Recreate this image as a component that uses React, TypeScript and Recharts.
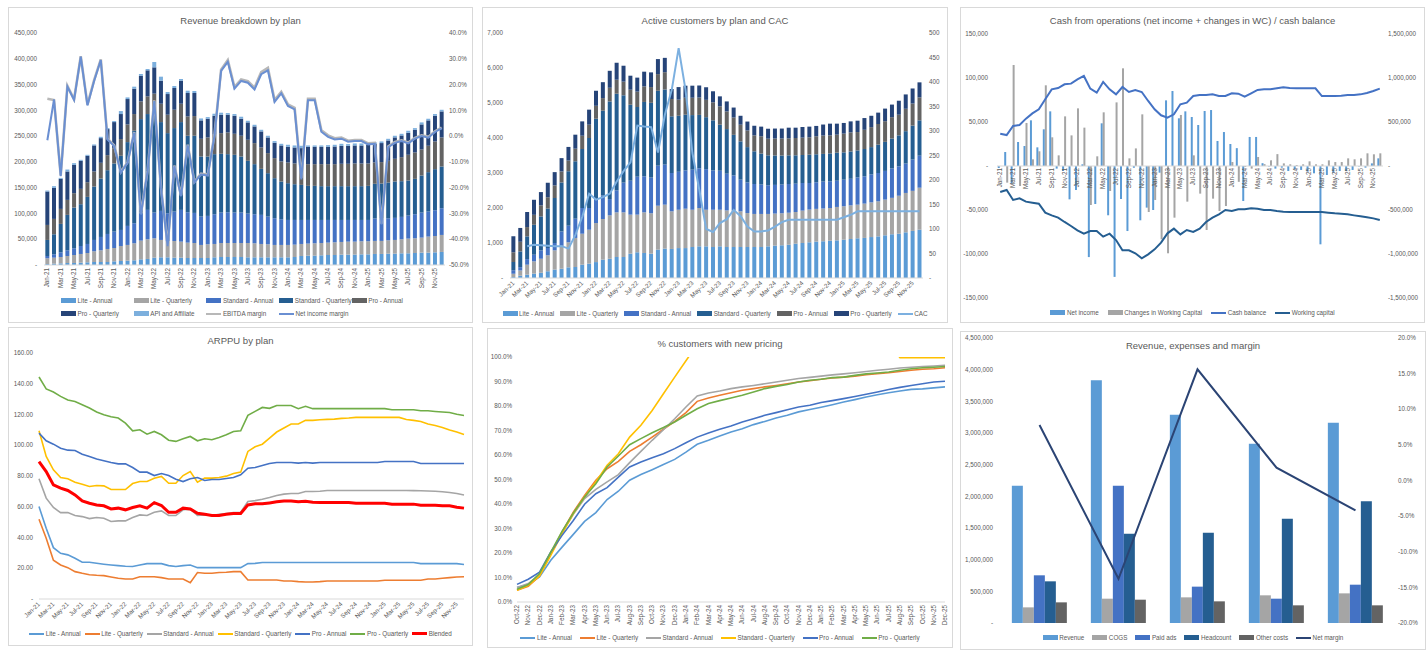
import React from 'react';
import { ComposedChart, Bar, Line, XAxis, YAxis, ReferenceLine } from 'recharts';

const FONT = '"Liberation Sans", Arial, sans-serif';
const TXT = '#595959';
const AXIS = '#d9d9d9';
const FS = 6.3;

const C_LITE_A = '#5b9bd5';
const C_LITE_Q = '#a5a5a5';
const C_STD_A = '#4472c4';
const C_STD_Q = '#255e91';
const C_PRO_A = '#636363';
const C_PRO_Q = '#264478';
const C_API = '#7cafdd';

// ---------- categories ----------
const MONTHS = [
  'Jan-21', 'Feb-21', 'Mar-21', 'Apr-21', 'May-21', 'Jun-21', 'Jul-21', 'Aug-21', 'Sep-21', 'Oct-21', 'Nov-21', 'Dec-21',
  'Jan-22', 'Feb-22', 'Mar-22', 'Apr-22', 'May-22', 'Jun-22', 'Jul-22', 'Aug-22', 'Sep-22', 'Oct-22', 'Nov-22', 'Dec-22',
  'Jan-23', 'Feb-23', 'Mar-23', 'Apr-23', 'May-23', 'Jun-23', 'Jul-23', 'Aug-23', 'Sep-23', 'Oct-23', 'Nov-23', 'Dec-23',
  'Jan-24', 'Feb-24', 'Mar-24', 'Apr-24', 'May-24', 'Jun-24', 'Jul-24', 'Aug-24', 'Sep-24', 'Oct-24', 'Nov-24', 'Dec-24',
  'Jan-25', 'Feb-25', 'Mar-25', 'Apr-25', 'May-25', 'Jun-25', 'Jul-25', 'Aug-25', 'Sep-25', 'Oct-25', 'Nov-25', 'Dec-25',
];
const PRICING_MONTHS = [
  'Oct-22', 'Nov-22', 'Dec-22',
  'Jan-23', 'Feb-23', 'Mar-23', 'Apr-23', 'May-23', 'Jun-23', 'Jul-23', 'Aug-23', 'Sep-23', 'Oct-23', 'Nov-23', 'Dec-23',
  'Jan-24', 'Feb-24', 'Mar-24', 'Apr-24', 'May-24', 'Jun-24', 'Jul-24', 'Aug-24', 'Sep-24', 'Oct-24', 'Nov-24', 'Dec-24',
  'Jan-25', 'Feb-25', 'Mar-25', 'Apr-25', 'May-25', 'Jun-25', 'Jul-25', 'Aug-25', 'Sep-25', 'Oct-25', 'Nov-25', 'Dec-25',
];
const YEARS = ['2021', '2022', '2023', '2024', '2025'];

// ---------- revenue breakdown (thousands) ----------
const REV_LITE_A = [1.9, 2.6, 3.2, 3.9, 3.9, 4.5, 5.2, 5.8, 5.8, 5.8, 7.1, 7.8, 8.4, 9.1, 11.0, 11.7, 14.2, 14.9, 14.9, 14.2, 14.2, 13.6, 13.6, 13.6, 13.6, 14.9, 15.5, 15.5, 15.5, 15.5, 14.9, 14.9, 14.9, 14.9, 14.9, 14.9, 14.9, 15.5, 17.5, 18.1, 18.1, 18.8, 19.4, 19.4, 20.1, 20.1, 20.1, 20.7, 20.7, 21.4, 21.4, 22.0, 22.0, 22.7, 22.7, 23.3, 24.0, 24.0, 24.6, 25.3];
const REV_LITE_Q = [11.1, 11.6, 12.3, 13.6, 15.5, 16.9, 18.1, 20.8, 22.7, 25.3, 25.9, 29.1, 30.5, 33.0, 36.3, 38.2, 37.6, 33.7, 31.7, 32.4, 31.1, 29.8, 29.1, 25.3, 26.6, 25.9, 27.2, 27.2, 27.2, 27.2, 27.8, 27.2, 25.9, 25.3, 24.0, 24.0, 24.0, 24.0, 23.3, 23.4, 24.0, 23.9, 24.0, 24.6, 24.6, 25.2, 25.2, 25.3, 25.3, 25.3, 25.3, 25.9, 26.6, 27.2, 28.5, 28.5, 29.1, 31.1, 31.7, 33.0];
const REV_STD_A = [4.5, 6.5, 9.1, 11.0, 13.0, 15.5, 17.5, 22.0, 25.9, 29.1, 31.8, 31.1, 36.9, 38.9, 54.4, 57.0, 49.9, 56.3, 53.8, 57.0, 61.6, 58.9, 58.3, 55.0, 55.0, 57.6, 59.0, 59.6, 59.0, 59.0, 57.0, 56.3, 56.4, 53.7, 51.8, 49.8, 48.5, 47.9, 46.6, 45.9, 45.3, 44.7, 44.0, 43.4, 42.7, 42.1, 42.1, 41.4, 41.4, 43.4, 43.4, 42.8, 42.8, 43.4, 44.7, 46.6, 48.6, 48.6, 49.9, 51.8];
const REV_STD_Q = [31.1, 38.9, 55.1, 68.7, 79.0, 81.0, 91.3, 103.6, 113.4, 123.7, 132.1, 143.8, 162.6, 179.4, 181.3, 185.9, 192.4, 172.3, 155.4, 162.0, 170.3, 148.4, 149.7, 116.6, 115.3, 116.6, 114.0, 112.7, 112.0, 108.8, 102.4, 97.2, 89.3, 84.2, 77.7, 73.2, 71.3, 69.3, 68.0, 66.1, 66.1, 65.5, 65.5, 65.5, 65.5, 65.5, 65.5, 65.5, 66.1, 67.4, 68.0, 69.3, 70.6, 69.3, 68.0, 68.7, 71.9, 76.4, 79.7, 81.0];
const REV_PRO_A = [29.1, 29.8, 29.1, 29.1, 27.9, 29.8, 28.5, 29.2, 30.4, 29.2, 29.8, 32.4, 34.3, 32.4, 34.4, 34.3, 38.2, 35.6, 35.7, 35.6, 35.6, 37.5, 38.2, 34.3, 36.9, 37.6, 40.1, 42.1, 40.8, 40.2, 40.8, 40.8, 41.5, 38.9, 38.9, 38.9, 40.1, 40.2, 40.2, 42.1, 42.1, 42.7, 42.7, 42.7, 43.4, 43.4, 44.0, 44.0, 43.4, 41.5, 41.5, 42.1, 44.0, 46.6, 49.9, 51.2, 50.5, 51.2, 53.8, 56.3];
const REV_PRO_Q = [64.8, 60.2, 58.3, 55.1, 55.0, 54.4, 51.2, 50.5, 47.9, 50.5, 50.5, 48.6, 49.2, 49.2, 49.8, 50.5, 51.1, 44.7, 40.1, 42.1, 44.7, 45.4, 44.7, 35.7, 36.3, 36.9, 35.7, 34.4, 35.0, 33.0, 33.7, 32.4, 31.1, 30.4, 29.8, 31.1, 30.5, 31.1, 31.1, 33.7, 33.7, 33.7, 33.7, 34.3, 34.9, 34.9, 35.0, 35.0, 36.3, 35.6, 36.9, 39.5, 41.5, 42.1, 42.7, 44.0, 48.6, 49.2, 49.9, 50.5];
const REV_API = [1.9, 3.3, 1.9, 3.8, 3.2, 1.9, 1.9, 1.9, 2.6, 2.0, 2.0, 5.8, 3.2, 3.9, 3.3, 2.6, 10.4, 7.8, 3.9, 3.9, 3.3, 4.5, 3.9, 3.8, 3.2, 3.9, 3.9, 3.2, 3.3, 3.9, 3.2, 3.2, 3.2, 3.3, 3.2, 3.2, 3.9, 3.9, 4.5, 2.6, 2.6, 2.6, 3.2, 3.3, 3.9, 3.3, 3.9, 3.9, 3.2, 3.2, 3.2, 3.2, 3.2, 3.2, 3.9, 3.2, 3.9, 3.2, 3.2, 3.2];
const EBITDA_MARGIN = [14.5, 14.0, -15.2, 19.5, 14.3, 31.0, 12.2, 21.7, 29.8, -1.0, -3.6, -13.9, -10.1, 1.6, -30.1, -13.3, 13.9, -19.8, -42.4, -11.4, -23.0, -3.3, -17.7, -14.6, -15.0, 0.4, 25.8, 29.5, 19.0, 22.0, 21.3, 18.8, 24.8, 26.5, 14.0, 17.2, 12.3, 11.0, -16.2, 14.5, 14.5, 2.3, 0.3, -0.8, -0.6, -1.8, -1.5, -1.5, -2.8, -2.6, -34.0, -4.0, -2.3, -1.6, -2.5, -0.7, 0.3, -0.3, 1.9, 3.3];
const NET_MARGIN = [-1.6, 14.2, -15.5, 19.2, 14.0, 30.8, 11.9, 21.4, 29.5, -1.3, -3.9, -14.2, -10.4, 1.3, -30.4, -13.6, 13.6, -20.1, -42.7, -11.7, -23.3, -3.6, -18.0, -14.9, -15.3, 0.0, 25.3, 28.8, 18.4, 21.4, 20.7, 18.1, 24.0, 25.5, 13.3, 16.6, 11.7, 10.4, -16.8, 13.9, 13.9, 1.7, -0.3, -1.3, -1.0, -2.2, -1.9, -1.9, -3.2, -3.0, -34.3, -4.3, -2.6, -1.9, -2.8, -1.0, 0.0, -0.6, 1.6, 3.0];

// ---------- active customers ----------
const CUST_LITE_A = [30, 65, 95, 125, 150, 190, 240, 265, 305, 315, 380, 410, 455, 525, 550, 600, 600, 695, 735, 715, 695, 810, 840, 830, 855, 855, 885, 905, 905, 885, 905, 885, 885, 885, 885, 885, 885, 905, 925, 935, 950, 980, 1000, 1020, 1040, 1050, 1065, 1075, 1095, 1115, 1135, 1145, 1170, 1190, 1220, 1250, 1265, 1305, 1345, 1380];
const CUST_LITE_Q = [95, 150, 285, 350, 400, 460, 550, 655, 715, 830, 885, 970, 1115, 1160, 1240, 1275, 1275, 1115, 1075, 1160, 1155, 1255, 1255, 1075, 1095, 1125, 1065, 1095, 1045, 1065, 1045, 1045, 1045, 1020, 970, 945, 945, 925, 915, 915, 915, 905, 925, 935, 935, 935, 935, 955, 955, 960, 960, 980, 990, 1000, 1020, 1040, 1085, 1125, 1145, 1200];
const CUST_STD_A = [95, 95, 160, 190, 240, 210, 210, 410, 475, 550, 735, 620, 685, 675, 465, 630, 850, 970, 1085, 1030, 1020, 1145, 1145, 1095, 1085, 1095, 1145, 1135, 1160, 1125, 1115, 1050, 1000, 905, 875, 855, 840, 820, 820, 820, 820, 810, 790, 760, 760, 770, 760, 750, 760, 760, 780, 780, 800, 810, 820, 840, 840, 840, 895, 915];
const CUST_STD_Q = [240, 450, 650, 855, 970, 1125, 1285, 1400, 1555, 1640, 1685, 2000, 2295, 2420, 2790, 2760, 2495, 2170, 1990, 2125, 2135, 2140, 2145, 1620, 1600, 1590, 1560, 1525, 1485, 1430, 1315, 1275, 1160, 1095, 1010, 935, 885, 855, 840, 830, 820, 810, 800, 810, 800, 790, 800, 800, 780, 780, 770, 780, 780, 810, 830, 855, 885, 925, 970, 1010];
const CUST_PRO_A = [275, 275, 265, 285, 315, 325, 360, 315, 305, 360, 380, 380, 370, 360, 390, 400, 390, 430, 440, 445, 450, 475, 495, 495, 460, 485, 495, 495, 495, 515, 525, 505, 495, 475, 475, 455, 495, 475, 485, 485, 485, 495, 495, 495, 515, 525, 515, 515, 535, 545, 525, 550, 570, 590, 590, 610, 590, 640, 630, 655];
const CUST_PRO_Q = [455, 395, 430, 430, 380, 410, 380, 380, 390, 400, 410, 430, 430, 455, 485, 485, 455, 400, 400, 420, 420, 430, 410, 285, 360, 345, 345, 345, 360, 315, 285, 285, 285, 255, 255, 275, 275, 285, 285, 285, 305, 295, 305, 305, 295, 315, 335, 315, 305, 315, 325, 335, 325, 325, 360, 360, 400, 410, 430, 430];
const CAC = [null, null, 65, 68, 67, 66, 65, 65, 60, 88, 125, 172, 160, 165, 172, 197, 218, 236, 311, 309, 308, 256, 333, 384, 469, 384, 255, 180, 100, 94, 112, 120, 139, 126, 105, 95, 95, 97, 105, 114, 119, 119, 119, 119, 119, 119, 119, 119, 124, 129, 136, 136, 136, 136, 136, 136, 136, 136, 136, 136];

// ---------- cash from operations (thousands) ----------
const NET_INCOME_K = [-2.3, 15.9, -20.0, 27.3, 22.7, 51.9, 21.2, 41.7, 62.1, -3.0, -5.7, -37.9, -27.3, 1.9, -103.5, -43.2, 48.5, -56.0, -126.0, -37.5, -73.9, -2.0, -61.7, -47.3, -50.0, -7.6, 74.6, 85.2, 54.2, 62.1, 55.7, 46.6, 62.5, 63.6, 28.4, 38.6, 25.0, 20.3, -39.8, 33.0, 33.0, 3.2, -0.5, -3.0, -1.9, -5.7, -3.8, -4.5, -6.4, -8.3, -89.0, -10.2, -7.6, -5.7, -5.7, -4.5, -0.5, -1.9, 3.0, 8.7];
const WC_CHANGE_K = [0, -18.9, 114.8, -22.7, 48.9, 7.6, 16.7, 91.7, 32.6, 12.1, 56.4, 34.8, 65.5, 43.6, -44.3, 11.0, 61.0, -28.4, 72.3, 111.0, 8.7, 20.0, 58.7, -52.3, -38.6, -83.3, -99.2, -58.7, 58.0, -40.5, 12.1, -31.4, -72.7, -37.1, -51.1, -45.5, 4.5, -18.0, -1.0, -3.0, 10.2, 2.1, 6.4, 13.5, 3.0, 1.9, 1.1, 1.9, 5.3, 1.9, 1.9, 6.4, 4.5, 4.5, 8.7, 7.6, 8.7, 14.4, 13.3, 14.4];
const CASH_BAL_K = [367, 352, 455, 466, 538, 598, 644, 758, 871, 886, 928, 936, 985, 1023, 879, 833, 955, 871, 814, 898, 841, 864, 841, 739, 644, 576, 549, 587, 701, 720, 795, 807, 807, 814, 795, 795, 826, 822, 788, 826, 864, 871, 871, 883, 894, 886, 883, 883, 883, 883, 795, 795, 795, 799, 807, 807, 814, 830, 852, 879];
const WORK_CAP_K = [-295, -273, -386, -367, -405, -417, -428, -530, -561, -587, -636, -682, -731, -769, -739, -739, -803, -769, -841, -958, -958, -992, -1049, -1004, -947, -871, -765, -712, -777, -727, -750, -712, -636, -587, -549, -500, -511, -492, -492, -481, -485, -500, -500, -511, -519, -523, -523, -523, -523, -523, -523, -530, -538, -542, -549, -561, -572, -583, -595, -614];

// ---------- ARPPU ----------
const ARPPU_LITE_A = [60.1, 46.0, 33.4, 29.7, 28.7, 26.5, 23.9, 23.9, 23.2, 22.6, 22.1, 21.7, 21.3, 21.1, 22.1, 23.0, 23.0, 23.0, 21.7, 21.1, 21.7, 22.1, 20.4, 20.4, 20.4, 20.4, 20.4, 20.4, 20.4, 23.0, 23.2, 23.7, 23.7, 23.7, 23.7, 23.7, 23.7, 23.7, 23.7, 23.7, 23.7, 23.7, 23.7, 23.7, 23.7, 23.7, 23.7, 23.7, 23.7, 23.7, 23.7, 23.7, 23.7, 23.0, 23.0, 23.0, 23.0, 23.0, 23.0, 22.4];
const ARPPU_LITE_Q = [51.9, 39.5, 25.2, 22.1, 20.4, 17.8, 16.7, 15.8, 15.4, 15.2, 14.3, 13.5, 13.0, 13.0, 14.5, 14.5, 14.5, 13.9, 13.0, 13.0, 13.0, 10.6, 17.2, 16.7, 16.7, 17.2, 17.4, 17.8, 17.8, 12.4, 12.4, 12.4, 12.4, 12.4, 11.7, 11.7, 11.3, 11.1, 11.1, 11.3, 11.7, 11.7, 11.7, 11.7, 11.7, 11.7, 11.7, 11.7, 12.2, 12.2, 12.2, 12.2, 12.2, 12.2, 13.0, 13.0, 13.5, 13.9, 14.3, 14.5];
const ARPPU_STD_A = [78.2, 65.6, 59.5, 56.2, 56.2, 54.3, 53.6, 52.3, 53.0, 52.5, 50.4, 50.8, 50.8, 53.0, 54.7, 54.3, 56.4, 57.3, 54.3, 54.3, 58.0, 58.4, 54.3, 54.7, 54.3, 55.1, 55.6, 56.2, 56.4, 63.4, 64.0, 64.9, 66.0, 67.3, 68.2, 68.6, 68.6, 69.9, 69.9, 70.1, 70.6, 70.6, 70.6, 70.6, 70.6, 70.6, 70.6, 70.6, 70.6, 70.6, 70.6, 70.6, 70.5, 70.4, 70.2, 70.1, 69.8, 69.3, 68.6, 67.7];
const ARPPU_STD_Q = [109.4, 92.7, 84.0, 79.0, 78.2, 76.0, 74.7, 73.2, 73.8, 73.6, 71.2, 71.2, 71.2, 75.1, 76.4, 76.4, 78.6, 79.7, 75.3, 75.3, 80.3, 82.9, 76.0, 78.6, 78.6, 79.0, 79.9, 81.6, 82.5, 96.0, 99.0, 100.7, 104.6, 108.6, 111.2, 113.8, 113.8, 116.2, 116.2, 116.6, 116.8, 117.0, 117.5, 117.7, 118.1, 118.1, 118.1, 118.1, 118.1, 118.1, 118.1, 116.8, 116.2, 115.5, 113.8, 112.9, 111.6, 109.9, 108.6, 107.0];
const ARPPU_PRO_A = [107.9, 102.9, 100.7, 98.1, 96.8, 96.6, 94.2, 92.7, 91.0, 89.9, 88.8, 87.9, 87.9, 85.5, 82.5, 82.5, 80.3, 81.6, 80.3, 77.9, 76.4, 78.2, 79.0, 77.1, 77.7, 77.7, 78.4, 79.0, 80.8, 85.1, 85.5, 86.8, 88.1, 88.8, 88.8, 88.8, 88.4, 88.8, 88.4, 88.8, 88.8, 88.8, 88.8, 88.8, 88.8, 88.8, 88.8, 88.8, 89.4, 89.4, 89.4, 89.4, 89.4, 88.1, 88.1, 88.1, 88.1, 88.1, 88.1, 88.1];
const ARPPU_PRO_Q = [144.4, 136.6, 134.6, 131.8, 129.4, 128.5, 126.4, 124.2, 121.6, 119.8, 118.5, 117.7, 114.4, 109.4, 110.1, 107.2, 109.0, 106.8, 103.3, 102.5, 104.2, 105.7, 102.9, 104.2, 103.6, 105.1, 106.8, 109.0, 109.4, 119.4, 122.0, 124.6, 124.0, 125.9, 125.9, 125.9, 123.8, 125.3, 123.8, 123.8, 123.8, 123.8, 123.8, 123.8, 123.8, 123.8, 123.8, 123.8, 123.8, 123.1, 123.1, 123.1, 123.1, 122.4, 122.4, 122.0, 121.6, 121.3, 120.2, 119.4];
const ARPPU_BLENDED = [89.4, 82.9, 74.2, 72.1, 70.6, 67.7, 63.8, 62.3, 61.2, 60.6, 58.6, 59.1, 58.0, 59.5, 60.6, 59.1, 62.7, 60.8, 56.4, 56.4, 59.1, 58.6, 55.8, 55.1, 54.3, 54.3, 55.1, 55.6, 55.6, 61.2, 61.9, 61.9, 62.5, 63.2, 63.8, 63.8, 63.2, 63.6, 63.0, 62.7, 62.7, 62.7, 62.7, 62.7, 62.3, 62.3, 62.3, 62.3, 62.3, 61.7, 61.7, 61.7, 61.7, 61.0, 61.0, 61.0, 60.6, 60.6, 59.7, 59.1];

// ---------- % customers with new pricing ----------
const NEW_LITE_A = [5.9, 7.1, 10.2, 17.0, 22.4, 27.6, 32.9, 36.5, 41.8, 45.2, 49.7, 52.0, 54.0, 56.1, 58.2, 61.2, 64.4, 66.0, 67.8, 69.4, 70.7, 72.4, 73.7, 75.1, 76.2, 77.6, 78.6, 79.5, 80.5, 81.6, 82.6, 83.7, 84.6, 85.4, 86.1, 86.8, 87.0, 87.4, 87.8];
const NEW_LITE_Q = [4.8, 6.4, 10.6, 19.7, 28.6, 36.7, 43.5, 49.7, 54.4, 57.4, 61.5, 64.2, 67.3, 70.5, 73.7, 77.3, 81.9, 83.3, 84.4, 85.4, 86.4, 87.1, 87.8, 88.4, 89.1, 89.8, 90.3, 90.9, 91.4, 91.8, 92.2, 92.8, 93.2, 93.6, 94.1, 94.6, 95.0, 95.2, 95.6];
const NEW_STD_A = [5.9, 7.5, 11.2, 19.7, 28.2, 35.8, 42.2, 46.0, 49.0, 52.0, 56.9, 61.5, 66.0, 70.3, 74.8, 79.6, 84.1, 85.3, 86.1, 87.1, 87.8, 88.4, 89.1, 89.8, 90.5, 91.2, 91.7, 92.2, 92.7, 93.1, 93.6, 94.1, 94.6, 95.0, 95.5, 95.8, 96.1, 96.3, 96.6];
const NEW_STD_Q = [4.8, 6.8, 10.6, 19.0, 27.9, 36.1, 42.9, 49.0, 55.8, 60.5, 67.3, 72.1, 78.2, 85.0, 91.8, 98.5, 105, 106, 107, 108, 108, 109, 109, 110, 110, 110, 110, 109, 109, 108, 108, 107, 107, 106, 99.7, 99.7, 99.7, 99.7, 99.7];
const NEW_PRO_A = [7.2, 9.3, 12.2, 20.4, 27.2, 33.3, 39.9, 44.2, 46.7, 51.0, 55.1, 57.1, 58.9, 60.5, 62.6, 65.0, 67.3, 69.0, 70.5, 71.8, 73.5, 74.8, 76.2, 77.3, 78.5, 79.6, 80.3, 81.4, 82.2, 83.0, 83.9, 84.8, 85.7, 86.7, 87.6, 88.4, 89.1, 89.8, 90.1];
const NEW_PRO_Q = [5.2, 7.1, 11.6, 20.4, 28.8, 36.3, 42.9, 48.3, 55.1, 59.6, 64.2, 66.7, 69.1, 71.2, 73.5, 76.2, 78.9, 81.0, 82.2, 83.3, 84.4, 85.7, 87.1, 88.0, 88.8, 89.8, 90.5, 90.9, 91.6, 91.8, 92.5, 93.1, 93.5, 93.9, 94.6, 95.2, 95.6, 95.8, 96.1];

// ---------- revenue, expenses and margin ----------
const PL_REVENUE = [2168000, 3832000, 3289000, 2832000, 3163000];
const PL_COGS = [247000, 384000, 405000, 437000, 468000];
const PL_PAID_ADS = [753000, 2168000, 574000, 384000, 605000];
const PL_HEADCOUNT = [658000, 1411000, 1426000, 1647000, 1921000];
const PL_OTHER = [326000, 368000, 342000, 279000, 279000];
const PL_NET_MARGIN = [7.8, -13.8, 15.6, 1.8, -4.2];

// ---------- rows ----------
const revRows = MONTHS.map((m, i) => ({
  m,
  la: REV_LITE_A[i] * 1000, lq: REV_LITE_Q[i] * 1000, sa: REV_STD_A[i] * 1000, sq: REV_STD_Q[i] * 1000,
  pa: REV_PRO_A[i] * 1000, pq: REV_PRO_Q[i] * 1000, api: REV_API[i] * 1000,
  ebitda: EBITDA_MARGIN[i], net: NET_MARGIN[i],
}));
const custRows = MONTHS.map((m, i) => ({
  m, la: CUST_LITE_A[i], lq: CUST_LITE_Q[i], sa: CUST_STD_A[i], sq: CUST_STD_Q[i], pa: CUST_PRO_A[i], pq: CUST_PRO_Q[i], cac: CAC[i],
}));
const cashRows = MONTHS.map((m, i) => ({
  m, ni: NET_INCOME_K[i] * 1000, wc: WC_CHANGE_K[i] * 1000, cash: CASH_BAL_K[i] * 1000, wcap: WORK_CAP_K[i] * 1000,
}));
const arppuRows = MONTHS.map((m, i) => ({
  m, la: ARPPU_LITE_A[i], lq: ARPPU_LITE_Q[i], sa: ARPPU_STD_A[i], sq: ARPPU_STD_Q[i], pa: ARPPU_PRO_A[i], pq: ARPPU_PRO_Q[i], bl: ARPPU_BLENDED[i],
}));
const pricingRows = PRICING_MONTHS.map((m, i) => ({
  m, la: NEW_LITE_A[i], lq: NEW_LITE_Q[i], sa: NEW_STD_A[i], sq: NEW_STD_Q[i], pa: NEW_PRO_A[i], pq: NEW_PRO_Q[i],
}));
const plRows = YEARS.map((y, i) => ({
  y, rev: PL_REVENUE[i], cogs: PL_COGS[i], ads: PL_PAID_ADS[i], hc: PL_HEADCOUNT[i], oth: PL_OTHER[i], nm: PL_NET_MARGIN[i],
}));

// ---------- helpers ----------
const tickStyle = { fontSize: FS, fill: TXT };
const fmtNum = (v: number) => (v === 0 ? '-' : v.toLocaleString('en-US'));
const fmtPct = (v: number) => `${v.toFixed(1)}%`;

function AngleTick(props: any) {
  const { x, y, payload, angle, lift = 0 } = props;
  const ty = y - lift;
  return (
    <text x={x} y={ty} dy="0.33em" textAnchor="end" fontSize={FS} fill={TXT} transform={`rotate(${angle}, ${x}, ${ty})`}>
      {payload.value}
    </text>
  );
}

type Key = { name: string; color: string; line?: number };

function Keys({ items, top, left = 0, width, cell, gap = 9 }: { items: Key[]; top: number; left?: number; width?: number; cell?: number; gap?: number }) {
  return (
    <div
      style={{
        position: 'absolute', top, left, width: width ?? '100%', display: 'flex', flexWrap: 'wrap',
        justifyContent: cell ? 'flex-start' : 'center', columnGap: cell ? 0 : gap, rowGap: 4,
        fontSize: FS, color: TXT, lineHeight: '9px',
      }}
    >
      {items.map((it) => (
        <div key={it.name} style={{ display: 'flex', alignItems: 'center', width: cell }}>
          <span style={{ display: 'inline-block', width: 15, height: it.line ?? 5, background: it.color, marginRight: 1.5 }} />
          <span style={{ whiteSpace: 'nowrap' }}>{it.name}</span>
        </div>
      ))}
    </div>
  );
}

function Panel({ left, top, width, height, title, titleTop, children }: any) {
  return (
    <div style={{ position: 'absolute', left, top, width, height, border: `1px solid ${AXIS}`, boxSizing: 'border-box', background: '#fff' }}>
      <div style={{ position: 'absolute', left: -1, top: -1 }}>{children}</div>
      <div style={{ position: 'absolute', left: 0, right: 0, top: titleTop, textAlign: 'center', fontSize: 9.5, color: TXT }}>{title}</div>
    </div>
  );
}

const planKeys: Key[] = [
  { name: 'Lite - Annual', color: C_LITE_A },
  { name: 'Lite - Quarterly', color: C_LITE_Q },
  { name: 'Standard - Annual', color: C_STD_A },
  { name: 'Standard - Quarterly', color: C_STD_Q },
  { name: 'Pro - Annual', color: C_PRO_A },
  { name: 'Pro - Quarterly', color: C_PRO_Q },
];

const lineColors = {
  la: '#5b9bd5', lq: '#ed7d31', sa: '#a5a5a5', sq: '#ffc000', pa: '#4472c4', pq: '#70ad47',
};

function RevenueChart() {
  return (
    <Panel left={8} top={7} width={465} height={316} title="Revenue breakdown by plan" titleTop={7}>
      <ComposedChart width={465} height={316} data={revRows} margin={{ top: 26, right: 0, bottom: 28, left: 0 }} barCategoryGap="20%">
        <XAxis dataKey="m" interval={1} tickLine={false} tickSize={0} tickMargin={3} height={30} axisLine={{ stroke: AXIS }} tick={(p: any) => <AngleTick {...p} angle={-90} />} />
        <YAxis yAxisId="l" domain={[0, 450000]} ticks={[0, 50000, 100000, 150000, 200000, 250000, 300000, 350000, 400000, 450000]} interval={0} width={36} axisLine={false} tickLine={false} tickSize={0} tickMargin={7} tick={tickStyle} tickFormatter={fmtNum} />
        <YAxis yAxisId="r" orientation="right" domain={[-50, 40]} ticks={[-50, -40, -30, -20, -10, 0, 10, 20, 30, 40]} interval={0} width={28} axisLine={false} tickLine={false} tickSize={0} tickMargin={4} tick={tickStyle} tickFormatter={fmtPct} />
        <Bar yAxisId="l" dataKey="la" stackId="s" fill={C_LITE_A} isAnimationActive={false} />
        <Bar yAxisId="l" dataKey="lq" stackId="s" fill={C_LITE_Q} isAnimationActive={false} />
        <Bar yAxisId="l" dataKey="sa" stackId="s" fill={C_STD_A} isAnimationActive={false} />
        <Bar yAxisId="l" dataKey="sq" stackId="s" fill={C_STD_Q} isAnimationActive={false} />
        <Bar yAxisId="l" dataKey="pa" stackId="s" fill={C_PRO_A} isAnimationActive={false} />
        <Bar yAxisId="l" dataKey="pq" stackId="s" fill={C_PRO_Q} isAnimationActive={false} />
        <Bar yAxisId="l" dataKey="api" stackId="s" fill={C_API} isAnimationActive={false} />
        <Line yAxisId="r" dataKey="ebitda" stroke="#b8b8b8" strokeWidth={2.6} dot={false} isAnimationActive={false} />
        <Line yAxisId="r" dataKey="net" stroke="#6a8fd2" strokeWidth={2} dot={false} isAnimationActive={false} />
      </ComposedChart>
      <Keys
        top={289}
        left={53}
        width={365}
        cell={72.7}
        items={[
          ...planKeys.slice(0, 5),
          planKeys[5],
          { name: 'API and Affiliate', color: C_API },
          { name: 'EBITDA margin', color: '#b8b8b8', line: 2 },
          { name: 'Net income margin', color: '#6a8fd2', line: 2 },
        ]}
      />
    </Panel>
  );
}

function CustomersChart() {
  return (
    <Panel left={482} top={7} width={466} height={316} title="Active customers by plan and CAC" titleTop={7}>
      <ComposedChart width={466} height={316} data={custRows} margin={{ top: 26, right: 0, bottom: 20, left: 0 }} barCategoryGap="20%">
        <XAxis dataKey="m" interval={1} tickLine={false} tickSize={0} tickMargin={4} height={25} axisLine={{ stroke: AXIS }} tick={(p: any) => <AngleTick {...p} angle={-45} />} />
        <YAxis yAxisId="l" domain={[0, 7000]} ticks={[0, 1000, 2000, 3000, 4000, 5000, 6000, 7000]} interval={0} width={28} axisLine={false} tickLine={false} tickSize={0} tickMargin={7} tick={tickStyle} tickFormatter={fmtNum} />
        <YAxis yAxisId="r" orientation="right" domain={[0, 500]} ticks={[0, 50, 100, 150, 200, 250, 300, 350, 400, 450, 500]} interval={0} width={25} axisLine={false} tickLine={false} tickSize={0} tickMargin={6} tick={tickStyle} tickFormatter={fmtNum} />
        <Bar yAxisId="l" dataKey="la" stackId="s" fill={C_LITE_A} isAnimationActive={false} />
        <Bar yAxisId="l" dataKey="lq" stackId="s" fill={C_LITE_Q} isAnimationActive={false} />
        <Bar yAxisId="l" dataKey="sa" stackId="s" fill={C_STD_A} isAnimationActive={false} />
        <Bar yAxisId="l" dataKey="sq" stackId="s" fill={C_STD_Q} isAnimationActive={false} />
        <Bar yAxisId="l" dataKey="pa" stackId="s" fill={C_PRO_A} isAnimationActive={false} />
        <Bar yAxisId="l" dataKey="pq" stackId="s" fill={C_PRO_Q} isAnimationActive={false} />
        <Line yAxisId="r" dataKey="cac" stroke="#7cb0e0" strokeWidth={2} dot={false} isAnimationActive={false} />
      </ComposedChart>
      <Keys top={302} gap={6} items={[...planKeys, { name: 'CAC', color: '#7cb0e0', line: 2 }]} />
    </Panel>
  );
}

function CashChart() {
  return (
    <Panel left={960} top={7} width={465} height={316} title="Cash from operations (net income + changes in WC) / cash balance" titleTop={7}>
      <ComposedChart width={465} height={316} data={cashRows} margin={{ top: 27, right: 0, bottom: 20, left: 0 }} barCategoryGap="12%" barGap={0}>
        <XAxis dataKey="m" interval={1} tickLine={false} tickSize={0} tickMargin={2} height={5} axisLine={false} tick={(p: any) => <AngleTick {...p} angle={-90} lift={132} />} />
        <YAxis yAxisId="l" domain={[-150000, 150000]} ticks={[-150000, -100000, -50000, 0, 50000, 100000, 150000]} interval={0} width={37} axisLine={false} tickLine={false} tickSize={0} tickMargin={9} tick={tickStyle} tickFormatter={fmtNum} />
        <YAxis yAxisId="r" orientation="right" domain={[-1500000, 1500000]} ticks={[-1500000, -1000000, -500000, 0, 500000, 1000000, 1500000]} interval={0} width={42} axisLine={false} tickLine={false} tickSize={0} tickMargin={5} tick={tickStyle} tickFormatter={fmtNum} />
        <ReferenceLine yAxisId="l" y={0} stroke={AXIS} />
        <Bar yAxisId="l" dataKey="ni" fill={C_LITE_A} isAnimationActive={false} />
        <Bar yAxisId="l" dataKey="wc" fill={C_LITE_Q} isAnimationActive={false} />
        <Line yAxisId="r" dataKey="cash" stroke="#4472c4" strokeWidth={2} dot={false} isAnimationActive={false} />
        <Line yAxisId="r" dataKey="wcap" stroke="#255e91" strokeWidth={2} dot={false} isAnimationActive={false} />
      </ComposedChart>
      <Keys
        top={301}
        items={[
          { name: 'Net income', color: C_LITE_A },
          { name: 'Changes in Working Capital', color: C_LITE_Q },
          { name: 'Cash balance', color: '#4472c4', line: 2 },
          { name: 'Working capital', color: '#255e91', line: 2 },
        ]}
      />
    </Panel>
  );
}

function ArppuChart() {
  return (
    <Panel left={8} top={327} width={465} height={319} title="ARPPU by plan" titleTop={7}>
      <ComposedChart width={465} height={319} data={arppuRows} margin={{ top: 26, right: 9, bottom: 22, left: 0 }}>
        <XAxis dataKey="m" interval={1} tickLine={false} tickSize={0} tickMargin={4} height={25} axisLine={{ stroke: AXIS }} tick={(p: any) => <AngleTick {...p} angle={-45} />} />
        <YAxis domain={[0, 160]} ticks={[0, 20, 40, 60, 80, 100, 120, 140, 160]} interval={0} width={31} axisLine={false} tickLine={false} tickSize={0} tickMargin={6} tick={tickStyle} tickFormatter={(v: number) => (v === 0 ? '-' : v.toFixed(2))} />
        <Line dataKey="la" stroke={lineColors.la} strokeWidth={1.6} dot={false} isAnimationActive={false} />
        <Line dataKey="lq" stroke={lineColors.lq} strokeWidth={1.6} dot={false} isAnimationActive={false} />
        <Line dataKey="sa" stroke={lineColors.sa} strokeWidth={1.6} dot={false} isAnimationActive={false} />
        <Line dataKey="sq" stroke={lineColors.sq} strokeWidth={1.6} dot={false} isAnimationActive={false} />
        <Line dataKey="pa" stroke={lineColors.pa} strokeWidth={1.6} dot={false} isAnimationActive={false} />
        <Line dataKey="pq" stroke={lineColors.pq} strokeWidth={1.6} dot={false} isAnimationActive={false} />
        <Line dataKey="bl" stroke="#ff0000" strokeWidth={3} dot={false} isAnimationActive={false} />
      </ComposedChart>
      <Keys
        top={302}
        gap={4}
        items={[
          { name: 'Lite - Annual', color: lineColors.la, line: 2 },
          { name: 'Lite - Quarterly', color: lineColors.lq, line: 2 },
          { name: 'Standard - Annual', color: lineColors.sa, line: 2 },
          { name: 'Standard - Quarterly', color: lineColors.sq, line: 2 },
          { name: 'Pro - Annual', color: lineColors.pa, line: 2 },
          { name: 'Pro - Quarterly', color: lineColors.pq, line: 2 },
          { name: 'Blended', color: '#ff0000', line: 3 },
        ]}
      />
    </Panel>
  );
}

function PricingChart() {
  return (
    <Panel left={487} top={328} width={466} height={320} title="% customers with new pricing" titleTop={9}>
      <ComposedChart width={466} height={320} data={pricingRows} margin={{ top: 29, right: 8, bottom: 24, left: 0 }}>
        <XAxis dataKey="m" interval={0} tickLine={false} tickSize={0} tickMargin={3} height={22} axisLine={{ stroke: AXIS }} tick={(p: any) => <AngleTick {...p} angle={-90} />} />
        <YAxis domain={[0, 100]} allowDataOverflow ticks={[0, 10, 20, 30, 40, 50, 60, 70, 80, 90, 100]} interval={0} width={30} axisLine={false} tickLine={false} tickSize={0} tickMargin={5} tick={tickStyle} tickFormatter={fmtPct} />
        <Line dataKey="la" stroke={lineColors.la} strokeWidth={1.6} dot={false} isAnimationActive={false} />
        <Line dataKey="lq" stroke={lineColors.lq} strokeWidth={1.6} dot={false} isAnimationActive={false} />
        <Line dataKey="sa" stroke={lineColors.sa} strokeWidth={1.6} dot={false} isAnimationActive={false} />
        <Line dataKey="sq" stroke={lineColors.sq} strokeWidth={1.6} dot={false} isAnimationActive={false} />
        <Line dataKey="pa" stroke={lineColors.pa} strokeWidth={1.6} dot={false} isAnimationActive={false} />
        <Line dataKey="pq" stroke={lineColors.pq} strokeWidth={1.6} dot={false} isAnimationActive={false} />
      </ComposedChart>
      <Keys
        top={305}
        gap={8}
        items={[
          { name: 'Lite - Annual', color: lineColors.la, line: 2 },
          { name: 'Lite - Quarterly', color: lineColors.lq, line: 2 },
          { name: 'Standard - Annual', color: lineColors.sa, line: 2 },
          { name: 'Standard - Quarterly', color: lineColors.sq, line: 2 },
          { name: 'Pro - Annual', color: lineColors.pa, line: 2 },
          { name: 'Pro - Quarterly', color: lineColors.pq, line: 2 },
        ]}
      />
    </Panel>
  );
}

function PlChart() {
  return (
    <Panel left={960} top={331} width={466} height={319} title="Revenue, expenses and margin" titleTop={8}>
      <ComposedChart width={466} height={319} data={plRows} margin={{ top: 7, right: 0, bottom: 27, left: 0 }} barCategoryGap="15%" barGap={0}>
        <XAxis dataKey="y" tick={false} tickLine={false} height={0} axisLine={{ stroke: AXIS }} />
        <YAxis yAxisId="l" domain={[0, 4500000]} ticks={[0, 500000, 1000000, 1500000, 2000000, 2500000, 3000000, 3500000, 4000000, 4500000]} interval={0} width={40} axisLine={false} tickLine={false} tickSize={0} tickMargin={7} tick={tickStyle} tickFormatter={fmtNum} />
        <YAxis yAxisId="r" orientation="right" domain={[-20, 20]} ticks={[-20, -15, -10, -5, 0, 5, 10, 15, 20]} interval={0} width={31} axisLine={false} tickLine={false} tickSize={0} tickMargin={3} tick={tickStyle} tickFormatter={fmtPct} />
        <Bar yAxisId="l" dataKey="rev" fill={C_LITE_A} isAnimationActive={false} />
        <Bar yAxisId="l" dataKey="cogs" fill={C_LITE_Q} isAnimationActive={false} />
        <Bar yAxisId="l" dataKey="ads" fill={C_STD_A} isAnimationActive={false} />
        <Bar yAxisId="l" dataKey="hc" fill={C_STD_Q} isAnimationActive={false} />
        <Bar yAxisId="l" dataKey="oth" fill={C_PRO_A} isAnimationActive={false} />
        <Line yAxisId="r" dataKey="nm" stroke="#2b4474" strokeWidth={2} dot={false} isAnimationActive={false} />
      </ComposedChart>
      <Keys
        top={302}
        gap={8}
        items={[
          { name: 'Revenue', color: C_LITE_A },
          { name: 'COGS', color: C_LITE_Q },
          { name: 'Paid ads', color: C_STD_A },
          { name: 'Headcount', color: C_STD_Q },
          { name: 'Other costs', color: C_PRO_A },
          { name: 'Net margin', color: '#2b4474', line: 2 },
        ]}
      />
    </Panel>
  );
}

export default function App() {
  return (
    <div style={{ position: 'absolute', left: 0, top: 0, width: 1428, height: 651, background: '#fff', fontFamily: FONT, overflow: 'hidden' }}>
      <RevenueChart />
      <CustomersChart />
      <CashChart />
      <ArppuChart />
      <PricingChart />
      <PlChart />
    </div>
  );
}
